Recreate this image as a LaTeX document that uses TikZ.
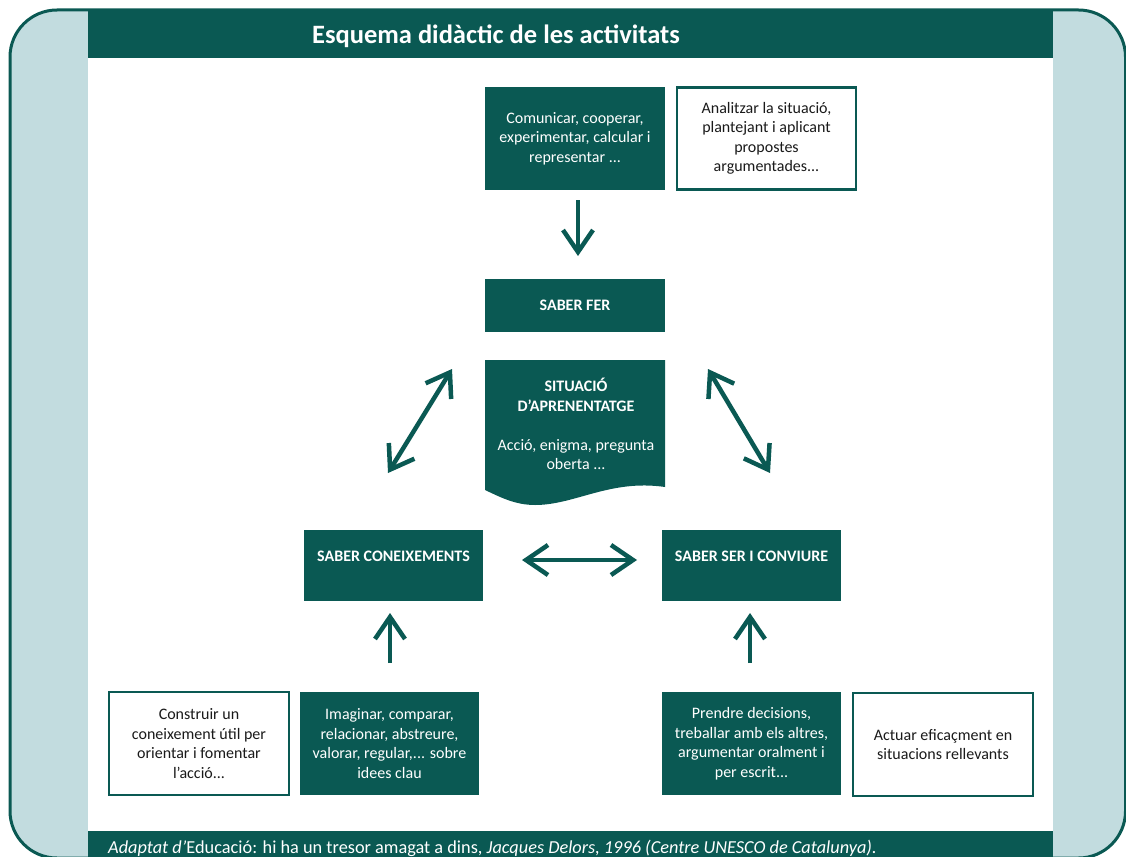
\documentclass[tikz,border=0pt]{standalone}
\usepackage{fontspec}
\setmainfont{Carlito}
\usetikzlibrary{arrows.meta}
\definecolor{dg}{HTML}{0A5953}
\definecolor{lb}{HTML}{C2DCDF}
\definecolor{tx}{HTML}{1A1A1A}
\tikzset{
  txt/.style={font=\fontsize{16}{19.5}\selectfont, align=center, inner sep=0pt},
  filledbox/.style={txt, fill=dg, text=white},
  outlinebox/.style={txt, fill=white, draw=dg, line width=2.5pt, text=tx},
  labelbox/.style={fill=dg, text=white, font=\fontsize{16}{19}\selectfont\bfseries, inner sep=0pt},
  arr/.style={draw=dg, line width=4.5pt, {Straight Barb[length=22pt,width=30pt]}-{Straight Barb[length=22pt,width=30pt]}},
  arrend/.style={draw=dg, line width=4.5pt, -{Straight Barb[length=22pt,width=30pt]}}
}
\begin{document}
\begin{tikzpicture}[x=1pt,y=-1pt]
\useasboundingbox (0,0) rectangle (1126,856);
% outer frame
\draw[fill=lb, draw=dg, line width=3pt, rounded corners=47pt] (10,10) rectangle (1125.5,858);
\fill[white] (88,10) rectangle (1053,856);
% title bar
\fill[dg] (88,9) rectangle (1053,58);
\node[text=white, font=\fontsize{26.5}{30}\selectfont\bfseries, inner sep=0pt] (title) at (496,36) {Esquema didàctic de les activitats};
% footer bar
\fill[dg] (88,831) rectangle (1053,857);
\node[anchor=base west, text=white, font=\fontsize{18.3}{21}\selectfont, inner sep=0pt] (foot) at (108,853)
  {\textit{Adaptat d’}Educació: hi ha un tresor amagat a dins, \textit{Jacques Delors, 1996 (Centre UNESCO de Catalunya).}};

% top boxes
\node[filledbox, minimum width=180pt, minimum height=103pt] (comunicar) at (575,138.5)
  {Comunicar, cooperar,\\experimentar, calcular i\\representar ...};
\node[outlinebox, minimum width=179pt, minimum height=102pt] (analitzar) at (766.5,138.5)
  {Analitzar la situació,\\plantejant i aplicant\\propostes\\argumentades...};

% saber fer
\node[labelbox, minimum width=180pt, minimum height=53pt] (saberfer) at (575,305.5) {SABER FER};

% situacio
\fill[dg] (485,360) -- (665,360) -- (665,487)
  .. controls (610,479) and (575,505) .. (535,505)
  .. controls (515,505) and (500,497) .. (485,490) -- cycle;
\node[txt, text=white] (situacio) at (576,424)
  {\textbf{SITUACIÓ}\\\textbf{D’APRENENTATGE}\\[19.5pt]Acció, enigma, pregunta\\oberta ...};

% middle boxes
\node[labelbox, minimum width=179pt, minimum height=71pt, text height=11pt, text depth=20pt] (coneix) at (393.5,565.5) {SABER CONEIXEMENTS};
\node[labelbox, minimum width=179pt, minimum height=71pt, text height=11pt, text depth=20pt] (sersaber) at (751.5,565.5) {SABER SER I CONVIURE};

% bottom boxes
\node[outlinebox, minimum width=180pt, minimum height=103pt] (construir) at (199,743.5)
  {Construir un\\coneixement útil per\\orientar i fomentar\\l’acció...};
\node[filledbox, minimum width=179pt, minimum height=103pt] (imaginar) at (389.5,743.5)
  {Imaginar, comparar,\\relacionar, abstreure,\\valorar, regular,... sobre\\idees clau};
\node[filledbox, minimum width=179pt, minimum height=103pt] (prendre) at (751.5,743.5)
  {Prendre decisions,\\treballar amb els altres,\\argumentar oralment i\\per escrit...};
\node[outlinebox, minimum width=180pt, minimum height=103pt] (actuar) at (943,744.5)
  {Actuar eficaçment en\\situacions rellevants};

% arrow coordinates
\coordinate (dA) at (578,200);
\coordinate (dB) at (578,256);
\coordinate (lA) at (388,473);
\coordinate (lB) at (452,369);
\coordinate (rA) at (708,369);
\coordinate (rB) at (770,473);
\coordinate (hA) at (522,560);
\coordinate (hB) at (637,560);
\coordinate (uA) at (390,663);
\coordinate (uB) at (390,613);
\coordinate (vA) at (750,663);
\coordinate (vB) at (750,613);

\draw[arrend] (dA) -- (dB);
\draw[arr] (lA) -- (lB);
\draw[arr] (rA) -- (rB);
\draw[arr] (hA) -- (hB);
\draw[arrend] (uA) -- (uB);
\draw[arrend] (vA) -- (vB);
\end{tikzpicture}
\end{document}
